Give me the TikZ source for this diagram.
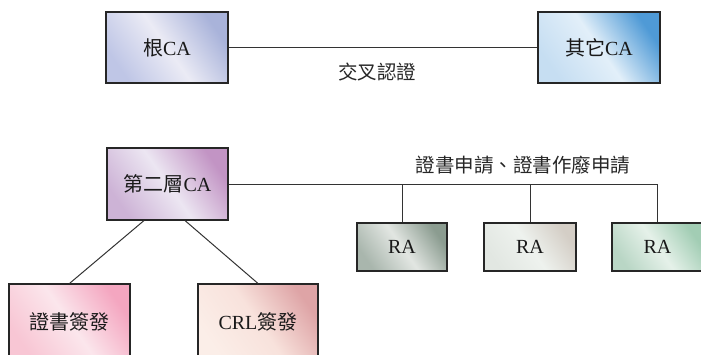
\documentclass[tikz,border=0pt]{standalone}
\usepackage{fontspec}
\setmainfont{Liberation Serif}
\newfontfamily\cjk{Noto Sans CJK TC}
\newcommand{\zh}[1]{{\cjk #1}}

\definecolor{rootA}{HTML}{BFC6E6}\definecolor{rootB}{HTML}{EBEBF5}\definecolor{rootC}{HTML}{A9B3DA}
\definecolor{otherA}{HTML}{C6DEF2}\definecolor{otherB}{HTML}{E2EFF9}\definecolor{otherC}{HTML}{4F9AD6}
\definecolor{lvlA}{HTML}{CDB3D6}\definecolor{lvlB}{HTML}{ECE6F2}\definecolor{lvlC}{HTML}{C294C4}
\definecolor{raoneA}{HTML}{A9B6AD}\definecolor{raoneB}{HTML}{E2E6E2}\definecolor{raoneC}{HTML}{8B9C90}
\definecolor{ratwoA}{HTML}{E2E7E2}\definecolor{ratwoB}{HTML}{EEF2EE}\definecolor{ratwoC}{HTML}{D4CEC6}
\definecolor{rathreeA}{HTML}{B9D6C5}\definecolor{rathreeB}{HTML}{E5F1E9}\definecolor{rathreeC}{HTML}{A2CDB4}
\definecolor{issueA}{HTML}{F8C6D4}\definecolor{issueB}{HTML}{FBE6EC}\definecolor{issueC}{HTML}{F4A6C0}
\definecolor{crlA}{HTML}{FBEEE8}\definecolor{crlB}{HTML}{F8E2DC}\definecolor{crlC}{HTML}{DEA4A6}

\begin{document}
\begin{tikzpicture}[x=1pt, y=-1pt,
        box/.style = {draw=black!85, line width=1.1pt, inner sep=0pt,
                      font=\fontsize{20}{22}\selectfont, text=black!90},
        grad/.style = {left color=#1A, right color=#1C, middle color=#1B, shading angle=125},
        wire/.style = {draw=black!80, line width=1pt},
        lbl/.style = {font=\fontsize{19.5}{22}\selectfont, text=black!85}]
        \clip (0,0) rectangle (701,354);

        % top level
        \node[box, grad=root, minimum width=122pt, minimum height=71pt] (root) at (167,47.5) {\zh{根}CA};
        \node[box, grad=other, minimum width=122pt, minimum height=71pt] (other) at (599,47.5) {\zh{其它}CA};
        \draw[wire] (root) -- (other);
        \node[lbl] (cross) at (377,72) {\zh{交叉認證}};

        % second level
        \node[box, grad=lvl, minimum width=121pt, minimum height=72pt] (l2) at (167.5,184) {\zh{第二層}CA};

        % registration authorities
        \node[box, grad=raone, minimum width=90pt, minimum height=48pt] (ra1) at (402,247) {RA};
        \node[box, grad=ratwo, minimum width=92pt, minimum height=48pt] (ra2) at (530,247) {RA};
        \node[box, grad=rathree, minimum width=91pt, minimum height=48pt] (ra3) at (657.5,247) {RA};
        \draw[wire] (l2.east) -| (ra3.north);
        \draw[wire] (ra1.north) -- (ra1.north |- l2.east);
        \draw[wire] (ra2.north) -- (ra2.north |- l2.east);
        \node[lbl] (req) at (523,165) {\zh{證書申請、證書作廢申請}};

        % issuing
        \node[box, grad=issue, minimum width=121pt, minimum height=76pt] (issue) at (69.5,322) {\zh{證書簽發}};
        \node[box, grad=crl, minimum width=120pt, minimum height=76pt] (crl) at (258,322) {CRL\zh{簽發}};
        \draw[wire] ([xshift=-23.5pt]l2.south) -- (issue.north);
        \draw[wire] ([xshift=17.5pt]l2.south) -- (crl.north);
\end{tikzpicture}
\end{document}
